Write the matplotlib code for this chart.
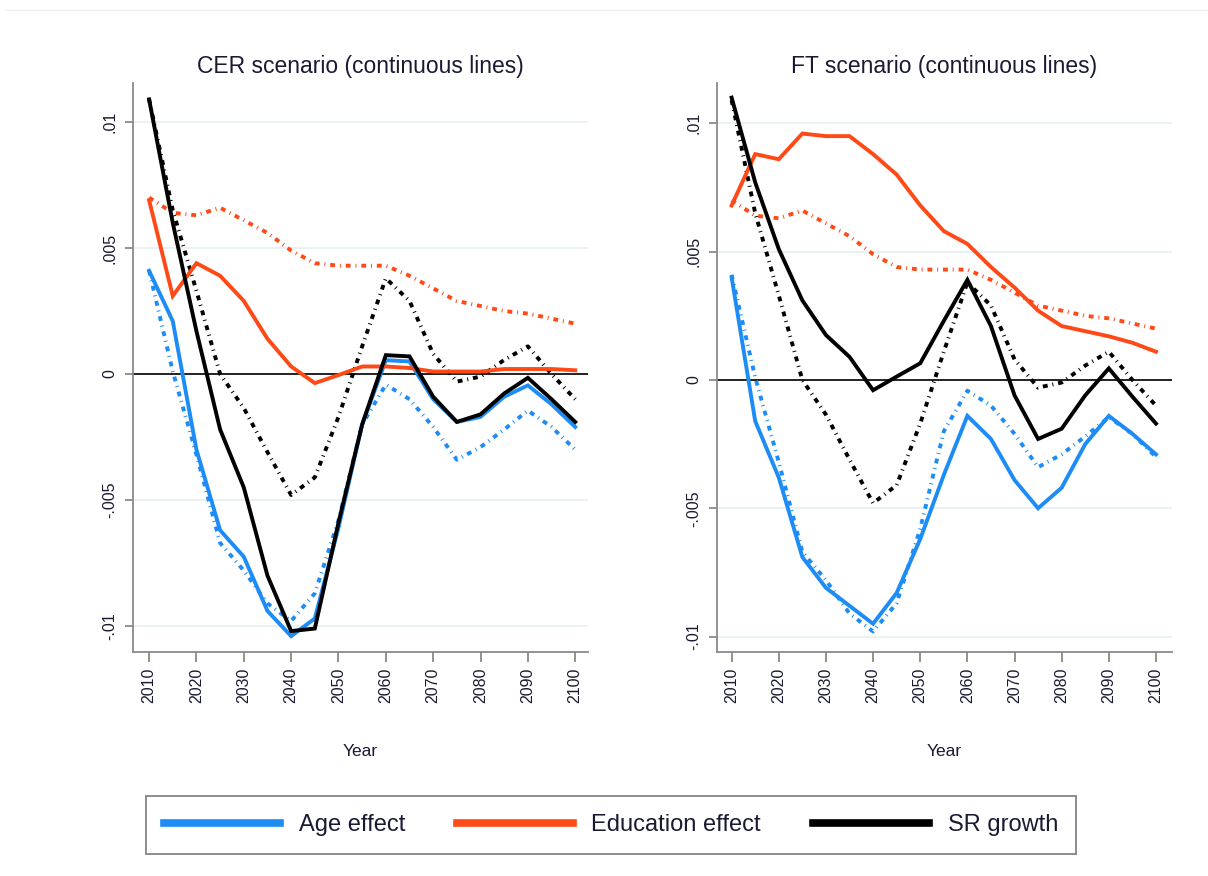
import matplotlib
matplotlib.use("Agg")
import matplotlib.pyplot as plt
from matplotlib.lines import Line2D

plt.rcParams['font.family'] = ['Liberation Sans', 'DejaVu Sans']

years = list(range(2010, 2101, 5))

# CER scenario (continuous lines)
cer_age = [0.0041, 0.0021, -0.0030, -0.0062, -0.00725, -0.0094, -0.0104, -0.0097, -0.0061, -0.0020,
           0.00055, 0.0005, -0.0010, -0.0019, -0.0017, -0.0009, -0.00045, -0.0012, -0.0021]
cer_edu = [0.0069, 0.0031, 0.0044, 0.0039, 0.0029, 0.0014, 0.0003, -0.00036, -0.00004, 0.0003,
           0.0003, 0.00024, 0.0001, 0.0001, 0.0001, 0.0002, 0.0002, 0.0002, 0.00015]
cer_sr = [0.0109, 0.0060, 0.0017, -0.0022, -0.0045, -0.0080, -0.0102, -0.0101, -0.0059, -0.0020,
          0.00075, 0.0007, -0.0009, -0.0019, -0.0016, -0.00077, -0.00015, -0.0010, -0.0019]

# FT scenario (continuous lines)
ft_age = [0.0040, -0.0016, -0.0038, -0.0069, -0.0081, -0.0088, -0.0095, -0.0083, -0.0062, -0.0037,
          -0.0014, -0.0023, -0.0039, -0.0050, -0.0042, -0.0025, -0.0014, -0.0021, -0.0029]
ft_edu = [0.0068, 0.0088, 0.0086, 0.0096, 0.0095, 0.0095, 0.0088, 0.0080, 0.0068, 0.0058,
          0.0053, 0.0044, 0.0036, 0.0027, 0.0021, 0.0019, 0.0017, 0.00145, 0.0011]
ft_sr = [0.0110, 0.0077, 0.0051, 0.0031, 0.00175, 0.0009, -0.0004, 0.00013, 0.00065, 0.0023,
         0.0039, 0.0021, -0.0006, -0.0023, -0.0019, -0.0006, 0.00045, -0.00065, -0.0017]

# Reference scenario (dash-dot lines, same in both panels)
base_age = [0.0041, 0.0001, -0.0032, -0.0067, -0.0078, -0.0091, -0.0098, -0.0087, -0.0058, -0.0020,
            -0.00042, -0.0010, -0.0021, -0.0034, -0.0029, -0.0022, -0.00145, -0.0021, -0.0030]
base_edu = [0.0070, 0.0064, 0.0063, 0.0066, 0.0061, 0.0056, 0.0049, 0.0044, 0.0043, 0.0043,
            0.0043, 0.0039, 0.0034, 0.0029, 0.0027, 0.0025, 0.0024, 0.0022, 0.0020]
base_sr = [0.0109, 0.0065, 0.0033, 0.0000, -0.00135, -0.0031, -0.0048, -0.0041, -0.0017, 0.0011,
           0.0038, 0.0029, 0.0008, -0.0003, -0.0001, 0.00056, 0.0011, 0.0000, -0.0010]

titles = ["CER scenario (continuous lines)", "FT scenario (continuous lines)"]
series_labels = ["Age effect", "Education effect", "SR growth"]
xticks = list(range(2010, 2101, 10))
yticks = [-0.01, -0.005, 0, 0.005, 0.01]
yticklabels = ["-.01", "-.005", "0", ".005", ".01"]

BLUE = '#1E8CF5'
RED = '#FF4A17'
BLACK = '#000000'
TXT = '#1a1a33'
SPINE = '#8a8a8a'

fig = plt.figure(figsize=(12.08, 8.76), dpi=100)
fig.patch.set_facecolor('white')

panels = [
    (dict(age=cer_age, edu=cer_edu, sr=cer_sr), [133/1208, 224/876, 455/1208, 569/876], (-0.01103, 0.01155), (2006.6, 2102.7)),
    (dict(age=ft_age, edu=ft_edu, sr=ft_sr), [717/1208, 224/876, 455/1208, 569/876], (-0.0106, 0.01157), (2006.9, 2103.4)),
]
dash = (0, (1.25, 1.25, 0.25, 1.25))
LW = 2.8

for i, (d, rect, ylim, xlim) in enumerate(panels):
    ax = fig.add_axes(rect)
    for yv in [-0.01, -0.005, 0.005, 0.01]:
        ax.axhline(yv, color='#e6eff2', lw=1.2, zorder=0)
    ax.axhline(0, color='#222222', lw=1.4, zorder=1)
    ax.plot(years, base_age, color=BLUE, lw=LW, linestyle=dash, zorder=2)
    ax.plot(years, base_edu, color=RED, lw=LW, linestyle=dash, zorder=2)
    ax.plot(years, base_sr, color=BLACK, lw=LW, linestyle=dash, zorder=2)
    ax.plot(years, d['age'], color=BLUE, lw=LW, zorder=3, solid_joinstyle='miter')
    ax.plot(years, d['edu'], color=RED, lw=LW, zorder=3, solid_joinstyle='miter')
    ax.plot(years, d['sr'], color=BLACK, lw=LW, zorder=4, solid_joinstyle='miter')
    ax.set_xlim(*xlim)
    ax.set_ylim(*ylim)
    ax.set_xticks(xticks)
    ax.set_xticklabels([str(x) for x in xticks], rotation=90, fontsize=11.5, color=TXT)
    ax.set_yticks(yticks)
    ax.set_yticklabels(yticklabels, rotation=90, fontsize=11.5, color=TXT, va='center')
    ax.tick_params(axis='x', length=7, width=1.3, color=SPINE, pad=4)
    ax.tick_params(axis='y', length=5.5, width=1.3, color=SPINE, pad=6)
    for s in ['top', 'right']:
        ax.spines[s].set_visible(False)
    for s in ['left', 'bottom']:
        ax.spines[s].set_color(SPINE)
        ax.spines[s].set_linewidth(1.3)
    ax.set_title(titles[i], fontsize=16.5, color=TXT, pad=7)
    ax.set_xlabel("Year", fontsize=12.5, color=TXT, labelpad=30)

handles = [Line2D([], [], color=c, lw=5.5) for c in [BLUE, RED, BLACK]]
leg = fig.legend(handles, series_labels, loc='center', bbox_to_anchor=(611/1208, 1 - 825/876),
                 ncol=3, fontsize=17, frameon=True, fancybox=False, edgecolor='#666666',
                 handlelength=4.9, handletextpad=0.8, columnspacing=2.2, borderpad=0.75)
leg.get_frame().set_linewidth(1.3)
for t in leg.get_texts():
    t.set_color(TXT)

fig.add_artist(Line2D([0.004, 1.0], [1 - 10/876, 1 - 10/876], color='#f0f0f0', lw=1))

fig.savefig("out.png", dpi=100, facecolor='white')
